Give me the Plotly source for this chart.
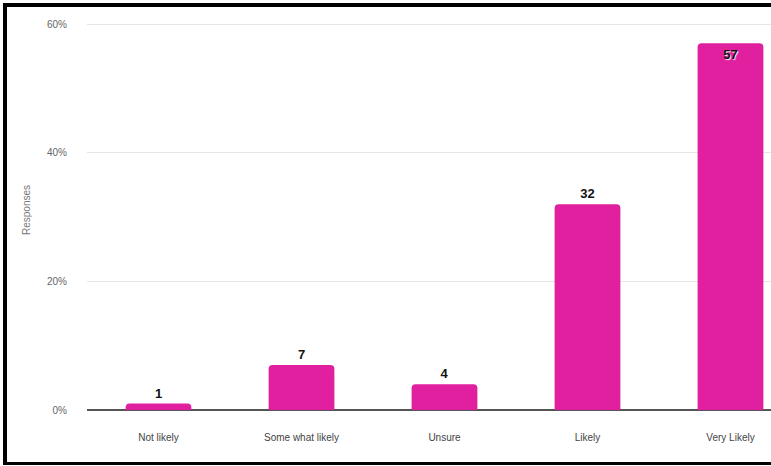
import plotly.graph_objects as go

categories = ["Not likely", "Some what likely", "Unsure", "Likely", "Very Likely"]
values = [1, 7, 4, 32, 57]
labels = ["1", "7", "4", "32", "57"]
text_positions = ["outside", "outside", "outside", "outside", "inside"]
y_ticks = [0, 20, 40, 60]
y_tick_text = ["0%", "20%", "40%", "60%"]

W, H = 771, 466
L, R, T, B = 87, 0, 10, 56
pw, ph = W - L - R, H - T - B

fig = go.Figure(go.Bar(
    x=categories, y=values, text=labels,
    textposition=text_positions, insidetextanchor="end",
    textfont=dict(family="Arial, Liberation Sans, sans-serif", size=13, color="#111",
                  weight="bold", shadow="1px 1px 1px #fff"),
    marker=dict(color="#E0209F", cornerradius=4, line=dict(width=0)),
    cliponaxis=False,
))

band = 143.0
x_hi = -0.5 + pw / band
y_top = 60 * ph / (410 - 24)

def px_x(px):
    return (px - L) / pw

def px_y(py):
    return (H - B - py) / ph

fig.update_layout(
    width=W, height=H,
    margin=dict(l=L, r=R, t=T, b=B),
    paper_bgcolor="white", plot_bgcolor="white",
    bargap=0.54,
    showlegend=False,
    font=dict(family="Arial, Liberation Sans, sans-serif"),
    xaxis=dict(range=[-0.5, x_hi], showgrid=False, zeroline=False,
               showline=False, ticks="",
               tickfont=dict(size=10, color="#444"), ticklabelstandoff=20),
    yaxis=dict(range=[0, y_top], tickmode="array", tickvals=y_ticks, ticktext=y_tick_text,
               showgrid=True, gridcolor="#e6e6e6", gridwidth=1,
               zeroline=True, zerolinecolor="#555", zerolinewidth=1.5,
               tickfont=dict(size=10, color="#666"), ticklabelstandoff=19,
               title=dict(text="Responses", font=dict(size=10, color="#777"), standoff=14)),
    shapes=[
        dict(type="line", xref="paper", yref="paper", x0=px_x(5), x1=px_x(5), y0=px_y(3), y1=px_y(465),
             line=dict(color="black", width=4)),
        dict(type="line", xref="paper", yref="paper", x0=px_x(3), x1=px_x(771), y0=px_y(5), y1=px_y(5),
             line=dict(color="black", width=4)),
        dict(type="line", xref="paper", yref="paper", x0=px_x(3), x1=px_x(771), y0=px_y(463.5), y1=px_y(463.5),
             line=dict(color="black", width=3)),
    ],
)

fig.write_html("out.html", config={"displayModeBar": False},
               post_script="document.body.style.margin='0';document.body.style.overflow='hidden';"
                           "document.documentElement.style.overflow='hidden';")
